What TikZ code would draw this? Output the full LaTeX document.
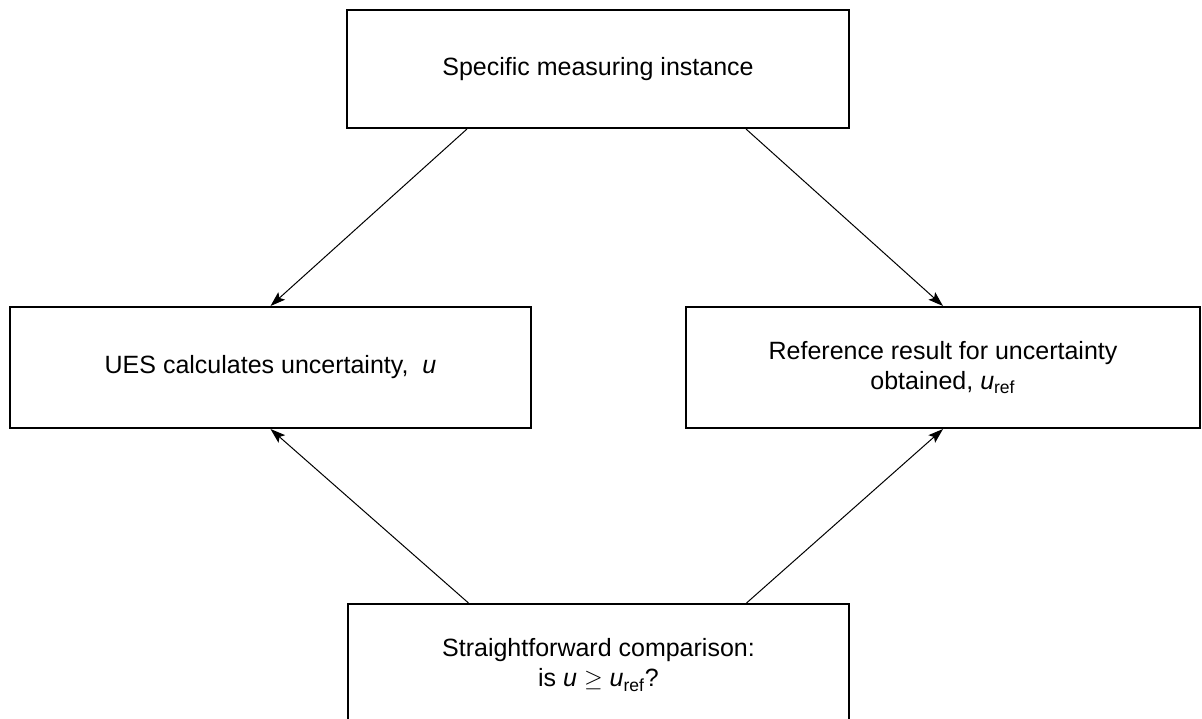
\documentclass[tikz,border=0pt]{standalone}
\usepackage{fontspec}
\setmainfont{Liberation Sans}
\usetikzlibrary{arrows.meta}
\begin{document}
\begin{tikzpicture}[x=0.5pt,y=-0.5pt,
  box/.style={draw, line width=1pt, inner sep=0pt, align=center,
    font=\fontsize{12.5}{15}\selectfont},
  link/.style={draw, line width=0.5pt, -{Stealth[length=7.5pt,width=5pt,inset=1.5pt]}}]
\useasboundingbox (0,0) rectangle (1202,718);
\node[box, minimum width=251pt, minimum height=59pt] (spec) at (598,69) {Specific measuring instance};
\node[box, minimum width=260.5pt, minimum height=60.5pt] (ues) at (270.5,367.5) {UES calculates uncertainty,~ \textit{u}};
\node[box, minimum width=257pt, minimum height=60.5pt] (ref) at (943,367.5) {Reference result for uncertainty\\obtained, \textit{u}\textsubscript{ref}};
\node[box, minimum width=250.5pt, minimum height=61pt] (cmp) at (598.5,665) {Straightforward comparison:\\is \textit{u} $\geq$ \textit{u}\textsubscript{ref}?};
\path[link] ([xshift=-65.5pt]spec.south) -- (ues.north);
\path[link] ([xshift=74pt]spec.south) -- (ref.north);
\path[link] ([xshift=-65pt]cmp.north) -- (ues.south);
\path[link] ([xshift=74pt]cmp.north) -- (ref.south);
\end{tikzpicture}
\end{document}
